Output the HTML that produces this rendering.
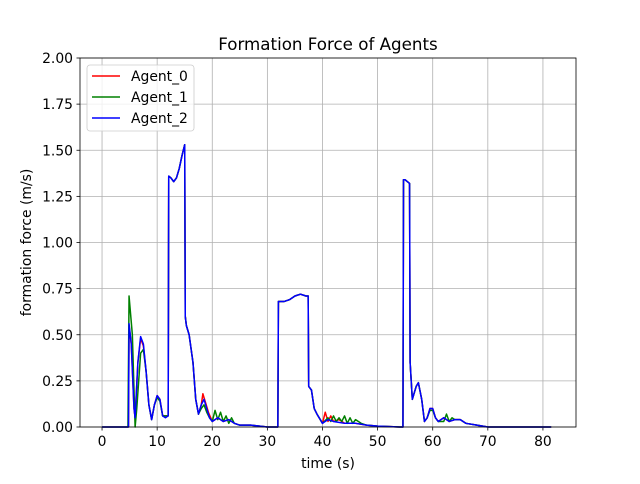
<!DOCTYPE html>
<html><head><meta charset="utf-8"><style>
body{margin:0;background:#fff;font-family:"DejaVu Sans","Liberation Sans",sans-serif}
svg text{font-family:"DejaVu Sans","Liberation Sans",sans-serif}
</style></head><body>
<svg id="chart" width="640" height="480"></svg>
<script>
const xTicks=[0,10,20,30,40,50,60,70,80];
const yTicks=[0,0.25,0.5,0.75,1.0,1.25,1.5,1.75,2.0];
const yTickLabels=["0.00","0.25","0.50","0.75","1.00","1.25","1.50","1.75","2.00"];
const seriesNames=["Agent_0","Agent_1","Agent_2"];
const seriesColors=["#ff0000","#008000","#0000ff"];
const agent2Time=[0,4.8,4.9,5.3,5.8,6.0,6.5,7,7.5,8,8.5,9,9.5,10,10.5,11,11.5,12,12.1,12.5,13,13.5,14,14.5,15,15.1,15.3,15.8,16.5,17,17.5,18,18.5,19,19.5,20,21,22,23,24,25,27,30,31.9,32,33,34,35,36,37,37.4,37.5,38,38.5,39,40,41,42,44,46,48,50,54,54.6,54.7,55,55.8,55.9,56.3,57,57.4,58,58.5,59,59.5,60,60.5,61,62,63,64,65,66,68,70,81.5];
const agent2Value=[0,0,0.56,0.45,0.1,0.05,0.35,0.49,0.45,0.3,0.12,0.04,0.12,0.17,0.15,0.06,0.05,0.06,1.36,1.35,1.33,1.35,1.4,1.47,1.53,0.6,0.55,0.5,0.35,0.15,0.07,0.12,0.15,0.1,0.05,0.03,0.05,0.03,0.04,0.02,0.01,0.01,0,0,0.68,0.68,0.69,0.71,0.72,0.71,0.71,0.22,0.2,0.1,0.07,0.02,0.04,0.03,0.02,0.02,0.01,0.005,0,0,1.34,1.34,1.32,0.35,0.15,0.22,0.24,0.15,0.03,0.05,0.1,0.1,0.05,0.03,0.05,0.03,0.04,0.04,0.02,0.01,0,0];
const agent1Time=[0,4.7,4.9,5.5,6.0,6.3,7,7.5,8,8.5,9,9.5,10,10.5,11,12,12.1,12.5,13,13.5,14,14.5,15,15.1,15.3,15.8,16.5,17,17.5,18,18.5,19,19.5,20,20.5,21,21.5,22,22.5,23,23.5,24,25,27,30,31.9,32,33,34,35,36,37,37.4,37.5,38,38.5,39,40,41,41.5,42,42.5,43,43.5,44,44.5,45,45.5,46,47,48,50,54,54.6,54.7,55,55.8,55.9,56.3,57,57.4,58,58.5,59,59.5,60,60.5,61,62,62.5,63,63.5,64,65,66,68,70,81.5];
const agent1Value=[0,0,0.71,0.5,0,0.1,0.4,0.42,0.3,0.12,0.04,0.12,0.16,0.14,0.06,0.06,1.36,1.35,1.33,1.35,1.4,1.47,1.53,0.6,0.55,0.5,0.35,0.15,0.07,0.1,0.12,0.08,0.05,0.03,0.09,0.04,0.08,0.03,0.06,0.02,0.05,0.02,0.01,0.01,0,0,0.68,0.68,0.69,0.71,0.72,0.71,0.71,0.22,0.2,0.1,0.07,0.02,0.05,0.03,0.06,0.03,0.05,0.03,0.06,0.02,0.05,0.02,0.04,0.02,0.01,0.005,0,0,1.34,1.34,1.32,0.35,0.15,0.22,0.24,0.15,0.03,0.05,0.09,0.09,0.05,0.03,0.03,0.07,0.03,0.05,0.04,0.04,0.02,0.01,0,0];
const agent0Time=[0,4.8,4.9,5.3,5.8,6.0,6.5,7,7.5,8,8.5,9,9.5,10,10.5,11,12,12.1,12.5,13,13.5,14,14.5,15,15.1,15.3,15.8,16.5,17,17.5,18,18.3,18.8,19.3,20,21,22,23,24,25,27,30,31.9,32,33,34,35,36,37,37.4,37.5,38,38.5,39,40,40.5,41,41.5,42,43,44,46,48,50,54,54.6,54.7,55,55.8,55.9,56.3,57,57.4,58,58.5,59,59.5,60,60.5,61,62,63,64,65,66,68,70,81.5];
const agent0Value=[0,0,0.55,0.45,0.1,0.05,0.35,0.48,0.44,0.3,0.12,0.04,0.12,0.17,0.15,0.06,0.06,1.36,1.35,1.33,1.35,1.4,1.47,1.53,0.6,0.55,0.5,0.35,0.15,0.07,0.12,0.18,0.13,0.08,0.03,0.05,0.03,0.04,0.02,0.01,0.01,0,0,0.68,0.68,0.69,0.71,0.72,0.71,0.71,0.22,0.2,0.1,0.07,0.02,0.08,0.03,0.06,0.03,0.04,0.02,0.02,0.01,0.005,0,0,1.34,1.34,1.32,0.35,0.15,0.22,0.24,0.15,0.03,0.05,0.1,0.1,0.05,0.03,0.05,0.03,0.04,0.04,0.02,0.01,0,0];
const L=80,R=576,T=58,B=427,X0=-4,X1=86,Y0=0,Y1=2;
const sx=v=>L+(v-X0)/(X1-X0)*(R-L);
const sy=v=>B-(v-Y0)/(Y1-Y0)*(B-T);
const svg=document.getElementById('chart');const NS='http://www.w3.org/2000/svg';
function mk(t,a,p){const e=document.createElementNS(NS,t);for(const k in a)e.setAttribute(k,a[k]);(p||svg).appendChild(e);return e;}
xTicks.forEach(v=>{const x=sx(v);
 const g=mk('line',{x1:x,x2:x,y1:T,y2:B,stroke:'#b0b0b0','stroke-width':0.8});
 
 
 mk('line',{x1:x,x2:x,y1:B,y2:B+3.5,stroke:'#000','stroke-width':0.8});
 const t=mk('text',{x:x,y:B+19,'text-anchor':'middle','font-size':13.9});t.textContent=v;
 
 });
yTicks.forEach((v,i)=>{const y=sy(v);
 const g=mk('line',{x1:L,x2:R,y1:y,y2:y,stroke:'#b0b0b0','stroke-width':0.8});
 
 
 mk('line',{x1:L-3.5,x2:L,y1:y,y2:y,stroke:'#000','stroke-width':0.8});
 const t=mk('text',{x:L-7,y:y+5,'text-anchor':'end','font-size':13.9});t.textContent=yTickLabels[i];
 
 });
const data=[[agent0Time,agent0Value],[agent1Time,agent1Value],[agent2Time,agent2Value]];
data.forEach((d,i)=>{const pts=d[0].map((t,j)=>sx(t)+','+sy(d[1][j])).join(' ');
 const p=mk('polyline',{points:pts,fill:'none',stroke:seriesColors[i],'stroke-width':1.5,'stroke-linejoin':'round'});
 
 });
const fr=mk('rect',{x:L,y:T,width:R-L,height:B-T,fill:'none',stroke:'#000','stroke-width':0.8});


const title=mk('text',{x:(L+R)/2,y:T-8,'text-anchor':'middle','font-size':16.7});title.textContent='Formation Force of Agents';


const xl=mk('text',{x:(L+R)/2,y:468,'text-anchor':'middle','font-size':13.9});xl.textContent='time (s)';


const yl=mk('text',{x:0,y:0,'text-anchor':'middle','font-size':13.9,transform:'translate(31,'+((T+B)/2)+') rotate(-90)'});yl.textContent='formation force (m/s)';


const lg=mk('rect',{x:87,y:65,width:107,height:66,rx:3,fill:'#fff','fill-opacity':0.8,stroke:'#ccc','stroke-width':0.8});


seriesNames.forEach((n,i)=>{const y=76+i*21;
 mk('line',{x1:92,x2:120,y1:y,y2:y,stroke:seriesColors[i],'stroke-width':1.5});
 const t=mk('text',{x:131,y:y+5,'font-size':13.9});t.textContent=n;
 
 });
</script>
</body></html>
